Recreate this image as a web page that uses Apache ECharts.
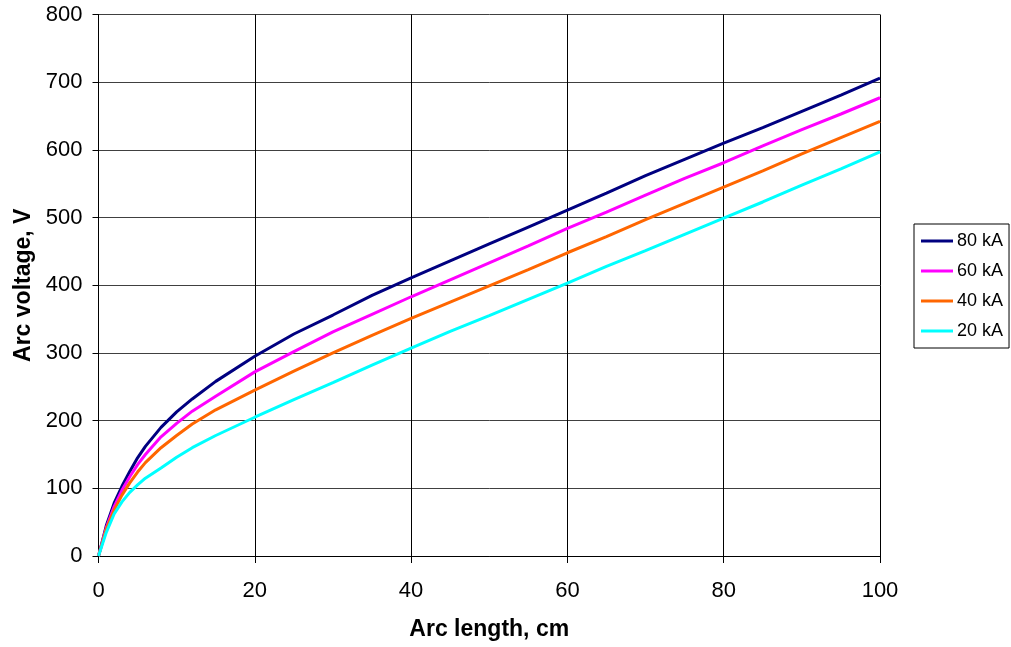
<!DOCTYPE html>
<html>
<head>
<meta charset="utf-8">
<script src="https://cdn.jsdelivr.net/npm/echarts@6/dist/echarts.min.js"></script>
<style>
  html, body { margin: 0; padding: 0; background: #fff; }
  #chart { width: 1011px; height: 647px; }
</style>
</head>
<body>
<div id="chart"></div>
<script>
var chartDom = document.getElementById('chart');
var myChart = echarts.init(chartDom);

// arc length, cm
const arcLength = [0, 1, 2, 3, 4, 5, 6, 8, 10, 12, 15, 20, 25, 30, 35, 40, 45, 50, 55, 60, 65, 70, 75, 80, 85, 90, 95, 100];

// arc voltage, V
const v80 = [0, 45, 78, 103, 125, 145, 162, 190, 213, 232, 258, 295, 328, 356, 385, 411, 436, 461, 486, 511, 536, 562, 586, 610, 633, 657, 681, 706];
const v60 = [0, 42, 73, 97, 117, 135, 150, 176, 196, 214, 236, 272, 302, 331, 357, 383, 408, 433, 458, 484, 508, 533, 558, 581, 606, 630, 653, 677];
const v40 = [0, 40, 68, 90, 108, 124, 138, 160, 178, 195, 216, 245, 273, 300, 326, 351, 375, 399, 423, 448, 472, 497, 521, 545, 569, 594, 618, 642];
const v20 = [0, 35, 62, 80, 94, 105, 115, 130, 146, 160, 178, 205, 231, 256, 282, 307, 332, 355, 379, 403, 428, 451, 475, 499, 523, 548, 572, 597];

const seriesNames = ['80 kA', '60 kA', '40 kA', '20 kA'];
const seriesColors = ['#000080', '#ff00ff', '#ff6600', '#00ffff'];
const seriesValues = [v80, v60, v40, v20];

const font = 'Liberation Sans, Arial, sans-serif';

function pairs(ys) {
  return arcLength.map(function (x, i) { return [x, ys[i]]; });
}

var option = {
  animation: false,
  backgroundColor: '#fff',
  textStyle: { fontFamily: font },
  grid: { left: 98.5, right: 131, top: 14.5, bottom: 91 },
  legend: {
    orient: 'vertical',
    left: 914,
    top: 224,
    data: seriesNames,
    icon: 'rect',
    itemWidth: 32,
    itemHeight: 3,
    itemGap: 12,
    padding: [8, 6, 8, 7],
    borderColor: '#000',
    borderWidth: 1,
    textStyle: { fontFamily: font, fontSize: 18, color: '#000', padding: [0, 0, 0, -1] }
  },
  xAxis: {
    type: 'value',
    min: 0,
    max: 100,
    interval: 20,
    name: 'Arc length, cm',
    nameLocation: 'middle',
    nameGap: 62,
    nameTextStyle: { fontFamily: font, fontSize: 23, fontWeight: 'bold', color: '#000' },
    axisLine: { show: true, onZero: false, lineStyle: { color: '#000', width: 1 } },
    axisTick: { show: true, length: 7, lineStyle: { color: '#000' } },
    axisLabel: { fontFamily: font, fontSize: 22, color: '#000', margin: 24 },
    splitLine: { show: true, lineStyle: { color: '#000', width: 1 } }
  },
  yAxis: {
    type: 'value',
    min: 0,
    max: 800,
    interval: 100,
    name: 'Arc voltage, V',
    nameLocation: 'middle',
    nameGap: 52,
    nameTextStyle: { fontFamily: font, fontSize: 23, fontWeight: 'bold', color: '#000' },
    axisLine: { show: true, lineStyle: { color: '#000', width: 1 } },
    axisTick: { show: true, length: 6, lineStyle: { color: '#000' } },
    axisLabel: { fontFamily: font, fontSize: 22, color: '#000', margin: 16 },
    splitLine: { show: true, lineStyle: { color: '#404040', width: 1 } }
  },
  series: seriesNames.map(function (name, i) {
    return {
      name: name,
      type: 'line',
      data: pairs(seriesValues[i]),
      showSymbol: false,
      smooth: false,
      lineStyle: { width: 3, color: seriesColors[i] },
      itemStyle: { color: seriesColors[i] }
    };
  })
};

option && myChart.setOption(option);
</script>
</body>
</html>
